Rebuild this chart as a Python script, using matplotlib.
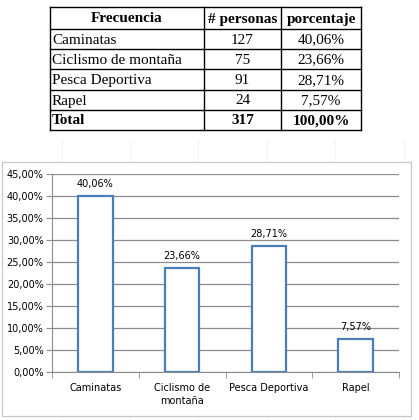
import matplotlib
matplotlib.use("Agg")
import matplotlib.pyplot as plt
from matplotlib.ticker import FuncFormatter

# ---- data ----
categories = ["Caminatas", "Ciclismo de montaña", "Pesca Deportiva", "Rapel"]
tick_labels = ["Caminatas", "Ciclismo de\nmontaña", "Pesca Deportiva", "Rapel"]
personas = [127, 75, 91, 24]
porcentaje = [40.06, 23.66, 28.71, 7.57]
total_personas = 317
total_pct = 100.00
headers = ["Frecuencia", "# personas", "porcentaje"]

W, H = 419, 420
fig = plt.figure(figsize=(W / 100, H / 100), dpi=100)
fig.patch.set_facecolor("white")

def fmt_pct(v):
    return f"{v:.2f}".replace(".", ",") + "%"

# ---- background overlay in pixel coords ----
bg = fig.add_axes([0, 0, 1, 1])
bg.set_xlim(0, W)
bg.set_ylim(H, 0)
bg.axis("off")

# faint spreadsheet gridlines outside the chart box
for x in [62, 130, 198, 267, 335, 404]:
    bg.plot([x, x], [140, 161], color="#efefef", lw=0.5)
    bg.plot([x, x], [416, 420], color="#efefef", lw=0.5)

# chart outer border
bg.plot([2, 411, 411, 2, 2], [162, 162, 416, 416, 162], color="#c8c8c8", lw=0.9)

# ---- table ----
col_x = [50, 204, 281, 361]
row_y = [7, 29, 49, 69, 90, 110, 130]
serif = "Liberation Serif"
for x in col_x:
    bg.plot([x, x], [row_y[0], row_y[-1]], color="black", lw=1.0)
for y in row_y:
    bg.plot([col_x[0], col_x[-1]], [y, y], color="black", lw=1.0)

fs = 11
for j, h in enumerate(headers):
    bg.text((col_x[j] + col_x[j + 1]) / 2, (row_y[0] + row_y[1]) / 2 + 1, h,
            ha="center", va="center", fontsize=fs, fontweight="bold", family=serif)
for i, (c, p, pc) in enumerate(zip(categories, personas, porcentaje)):
    yc = (row_y[i + 1] + row_y[i + 2]) / 2 + 1
    bg.text(col_x[0] + 2, yc, c, ha="left", va="center", fontsize=fs, family=serif)
    bg.text((col_x[1] + col_x[2]) / 2, yc, str(p), ha="center", va="center", fontsize=fs, family=serif)
    bg.text((col_x[2] + col_x[3]) / 2, yc, fmt_pct(pc), ha="center", va="center", fontsize=fs, family=serif)
yc = (row_y[5] + row_y[6]) / 2 + 1
bg.text(col_x[0] + 2, yc, "Total", ha="left", va="center", fontsize=fs, fontweight="bold", family=serif)
bg.text((col_x[1] + col_x[2]) / 2, yc, str(total_personas), ha="center", va="center",
        fontsize=fs, fontweight="bold", family=serif)
bg.text((col_x[2] + col_x[3]) / 2, yc, fmt_pct(total_pct), ha="center", va="center",
        fontsize=fs, fontweight="bold", family=serif)

# ---- bar chart ----
left, right, top, bottom = 52, 399, 174, 372
ax = fig.add_axes([left / W, (H - bottom) / H, (right - left) / W, (bottom - top) / H])
ax.set_facecolor("none")
xs = list(range(len(categories)))
vals = [v / 100 for v in porcentaje]
ax.bar(xs, vals, width=0.4, color="white", edgecolor="#4a7ebb", linewidth=1.6, zorder=3)
ax.set_xlim(-0.5, len(categories) - 0.5)
ax.set_ylim(0, 0.45)
ax.set_yticks([i * 0.05 for i in range(10)])
ax.yaxis.set_major_formatter(FuncFormatter(lambda v, p: fmt_pct(v * 100)))
ax.grid(axis="y", color="#8c8c8c", lw=0.9, zorder=0)
for s in ["top", "right"]:
    ax.spines[s].set_visible(False)
ax.spines["left"].set_color("#8c8c8c")
ax.spines["bottom"].set_color("#8c8c8c")
ax.tick_params(axis="y", length=4, color="#8c8c8c", labelsize=7, pad=2)
ax.set_xticks(xs)
ax.set_xticklabels(tick_labels, fontsize=7, linespacing=1.3)
ax.tick_params(axis="x", length=0, pad=8)
ax.set_xticks([i - 0.5 for i in range(len(categories) + 1)], minor=True)
ax.tick_params(axis="x", which="minor", length=4, color="#8c8c8c")
for x, v, pc in zip(xs, vals, porcentaje):
    ax.annotate(fmt_pct(pc), (x, v), xytext=(0, 5), textcoords="offset points",
                ha="center", va="bottom", fontsize=7)

fig.savefig("out.png", dpi=100, facecolor="white")
